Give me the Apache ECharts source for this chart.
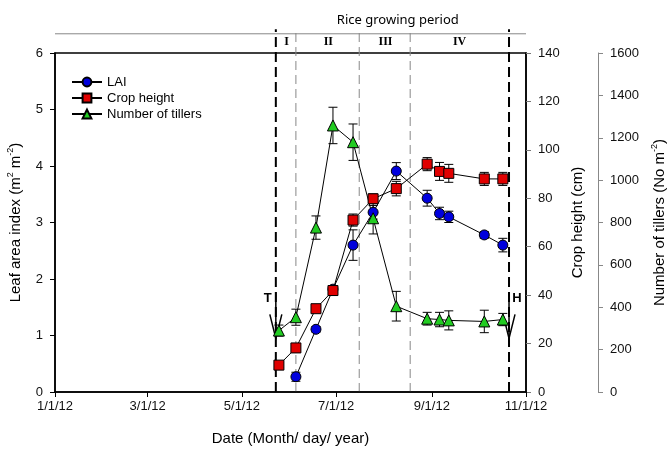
<!DOCTYPE html>
<html><head><meta charset="utf-8">
<script src="https://cdn.jsdelivr.net/npm/echarts@6/dist/echarts.min.js"></script>
<style>html,body{margin:0;padding:0;background:#fff}#c{width:668px;height:458px}</style>
</head><body><div id="c"></div>
<script>
// ---------- data ----------
const xMin = '2012-01-01', xMax = '2012-11-01';
const xTickDates = ['2012-01-01','2012-03-01','2012-05-01','2012-07-01','2012-09-01','2012-11-01'];

const laiDates = ['2012-06-05','2012-06-18','2012-06-29','2012-07-12','2012-07-25','2012-08-09','2012-08-29','2012-09-06','2012-09-12','2012-10-05','2012-10-17'];
const laiValues = [0.27,1.11,1.82,2.60,3.18,3.91,3.43,3.16,3.10,2.78,2.60];
const laiErr = [0.08,0.05,0.05,0.27,0.12,0.15,0.14,0.11,0.10,0.06,0.12];

const cropDates = ['2012-05-25','2012-06-05','2012-06-18','2012-06-29','2012-07-12','2012-07-25','2012-08-09','2012-08-29','2012-09-06','2012-09-12','2012-10-05','2012-10-17'];
const cropValues = [11.1,18.2,34.4,41.9,71.0,79.8,84.0,94.1,91.1,90.3,88.0,88.0];
const cropErr = [1.0,1.8,1.4,2.0,2.5,2.0,3.0,2.7,3.7,3.7,2.7,2.7];

const tillerDates = cropDates;
const tillerValues = [290,353,776,1258,1179,820,405,346,342,338,333,342];
const tillerErr = [26,38,55,86,86,74,70,30,34,45,53,29];

const periodBounds = ['2012-05-23','2012-06-05','2012-07-16','2012-08-18','2012-10-21'];
const boundHeavy = [1,0,0,0,1];
const periodNames = ['I','II','III','IV'];
const periodCenters = ['2012-05-30','2012-06-26','2012-08-02','2012-09-19'];
const bandTitle = 'Rice growing period';
const bandTitleDate = '2012-08-10';

const arrowDates = ['2012-05-23','2012-10-21'];
const arrowLabels = ['T','H'];
const arrowTop = 1.77, arrowTip = 0.95;

// ---------- helpers ----------
function ts(s){const p=s.split('-').map(Number);return new Date(p[0],p[1]-1,p[2]).getTime();}
const FONT = 'Liberation Sans, Arial, sans-serif';
const plain = v => String(v);

function errRender(params, api){
  const x=api.value(0), y=api.value(1), e=api.value(2);
  const hi=api.coord([x,y+e]), lo=api.coord([x,y-e]);
  const w=4.5, st={stroke:'#000', lineWidth:1};
  return {type:'group', children:[
    {type:'line', shape:{x1:hi[0],y1:hi[1],x2:lo[0],y2:lo[1]}, style:st},
    {type:'line', shape:{x1:hi[0]-w,y1:hi[1],x2:hi[0]+w,y2:hi[1]}, style:st},
    {type:'line', shape:{x1:lo[0]-w,y1:lo[1],x2:lo[0]+w,y2:lo[1]}, style:st}
  ]};
}
function errSeries(name, dates, vals, errs, yIdx){
  return {name:name, type:'custom', xAxisIndex:0, yAxisIndex:yIdx, z:1, silent:true,
    renderItem:errRender, encode:{x:0,y:1},
    data:dates.map((d,i)=>[ts(d), vals[i], errs[i]])};
}
const supRich = {a:{fontSize:15, lineHeight:20, fontFamily:FONT, color:'#000'}, s:{fontSize:9, lineHeight:9, verticalAlign:'top', fontFamily:FONT, color:'#000'}};

const option = {
  animation:false,
  backgroundColor:'#fff',
  grid:{left:55, right:142, top:53, bottom:66, show:true, borderColor:'#000', borderWidth:1.5, outerBoundsMode:'none', containLabel:false},
  legend:{
    orient:'vertical', left:66, top:70, itemWidth:30, itemHeight:11, itemGap:2,
    data:['LAI','Crop height','Number of tillers'],
    textStyle:{fontSize:13, fontFamily:FONT, color:'#000', lineHeight:14}
  },
  xAxis:[{
    type:'value', min:ts(xMin), max:ts(xMax),
    axisLine:{lineStyle:{color:'#000', width:1.5}},
    axisTick:{show:true, length:5, lineStyle:{color:'#000'}, customValues:xTickDates.map(ts)},
    axisLabel:{fontSize:13, fontFamily:FONT, color:'#111', margin:8, customValues:xTickDates.map(ts),
      formatter:function(v){const d=new Date(v);return (d.getMonth()+1)+'/'+d.getDate()+'/'+String(d.getFullYear()).slice(2);}},
    splitLine:{show:false},
    name:'Date (Month/ day/ year)', nameLocation:'middle', nameGap:39,
    nameTextStyle:{fontSize:15, fontFamily:FONT, color:'#000'}
  }],
  yAxis:[
    {type:'value', position:'left', min:0, max:6, interval:1,
     axisLine:{show:true, lineStyle:{color:'#000', width:1.5}},
     axisTick:{show:true, length:5, lineStyle:{color:'#000'}},
     axisLabel:{fontSize:13, fontFamily:FONT, color:'#111', margin:12, formatter:plain},
     splitLine:{show:false},
     name:'{a|Leaf area index (m}{s|2}{a| m}{s|-2}{a|)}', nameLocation:'middle', nameGap:29,
     nameTextStyle:{rich:supRich}},
    {type:'value', position:'right', offset:0, min:0, max:140, interval:20,
     axisLine:{show:true, lineStyle:{color:'#000', width:1.5}},
     axisTick:{show:true, length:5, lineStyle:{color:'#777'}},
     axisLabel:{fontSize:13, fontFamily:FONT, color:'#111', margin:12, formatter:plain},
     splitLine:{show:false},
     name:'Crop height (cm)', nameLocation:'middle', nameGap:43, nameRotate:90,
     nameTextStyle:{fontSize:15, fontFamily:FONT, color:'#000'}},
    {type:'value', position:'right', offset:72, min:0, max:1600, interval:200,
     axisLine:{show:true, lineStyle:{color:'#888', width:1}},
     axisTick:{show:true, length:5, lineStyle:{color:'#888'}},
     axisLabel:{fontSize:13, fontFamily:FONT, color:'#111', margin:12, formatter:plain},
     splitLine:{show:false},
     name:'{a|Number of tillers (No m}{s|-2}{a|)}', nameLocation:'middle', nameGap:45, nameRotate:90,
     nameTextStyle:{rich:supRich}}
  ],
  series:[
    {name:'bounds', type:'custom', xAxisIndex:0, yAxisIndex:0, clip:false, silent:true, z:0,
     encode:{x:0,y:1},
     data:periodBounds.map((d,i)=>[ts(d), boundHeavy[i]]),
     renderItem:function(params, api){
       const x=api.value(0), heavy=api.value(1)===1;
       const a=api.coord([x,0]), b=api.coord([x, heavy?6.42:6.38]);
       return {type:'line', shape:{x1:a[0],y1:a[1],x2:b[0],y2:b[1]},
         style:{stroke: heavy?'#000':'#888', lineWidth: heavy?2:1, lineDash: heavy?[10,5]:[9,5]}};
     }},
    {name:'bandline', type:'custom', xAxisIndex:0, yAxisIndex:0, clip:false, silent:true,
     encode:{x:0,y:1},
     data:[[ts(xMin), 6.34, ts(xMax)]],
     renderItem:function(params, api){
       const a=api.coord([api.value(0), api.value(1)]), b=api.coord([api.value(2), api.value(1)]);
       return {type:'line', shape:{x1:a[0],y1:a[1],x2:b[0],y2:b[1]}, style:{stroke:'#888', lineWidth:1}};
     }},
    {name:'periods', type:'custom', xAxisIndex:0, yAxisIndex:0, clip:false, silent:true,
     encode:{x:0,y:1},
     data:periodCenters.map(d=>[ts(d), 6.19]),
     renderItem:function(params, api){
       const p=api.coord([api.value(0), api.value(1)]);
       return {type:'text', x:p[0], y:p[1], style:{text:periodNames[params.dataIndex], fontSize:12, fontWeight:'bold',
         fontFamily:'Liberation Serif, serif', align:'center', verticalAlign:'middle', fill:'#000'}};
     }},
    {name:'bandtitle', type:'custom', xAxisIndex:0, yAxisIndex:0, clip:false, silent:true,
     encode:{x:0,y:1},
     data:[[ts(bandTitleDate), 6.57]],
     renderItem:function(params, api){
       const p=api.coord([api.value(0), api.value(1)]);
       return {type:'text', x:p[0], y:p[1], style:{text:bandTitle, fontSize:13, fontFamily:'Noto Sans, '+FONT,
         align:'center', verticalAlign:'middle', fill:'#000'}};
     }},
    {name:'arrows', type:'custom', xAxisIndex:0, yAxisIndex:0, clip:false, silent:true, z:3,
     encode:{x:0,y:1},
     data:arrowDates.map(d=>[ts(d), arrowTop, arrowTip]),
     renderItem:function(params, api){
       const x=api.value(0);
       const a=api.coord([x, api.value(1)]), b=api.coord([x, api.value(2)]);
       const side = params.dataIndex===0?-1:1;
       return {type:'group', children:[
         {type:'line', shape:{x1:a[0],y1:a[1],x2:b[0],y2:b[1]}, style:{stroke:'#000', lineWidth:1.5}},
         {type:'polyline', shape:{points:[[b[0]-6,b[1]-24],[b[0],b[1]],[b[0]+6,b[1]-24]]}, style:{stroke:'#000', lineWidth:1.5, fill:null}},
         {type:'text', x:a[0]+side*8, y:a[1]+6, style:{text:arrowLabels[params.dataIndex], fontSize:13, fontWeight:'bold',
           fontFamily:FONT, align:'center', verticalAlign:'middle', fill:'#000'}}
       ]};
     }},
    errSeries('laiErr', laiDates, laiValues, laiErr, 0),
    errSeries('cropErr', cropDates, cropValues, cropErr, 1),
    errSeries('tillerErr', tillerDates, tillerValues, tillerErr, 2),
    {name:'LAI', type:'line', xAxisIndex:0, yAxisIndex:0, z:3,
     data:laiDates.map((d,i)=>[ts(d), laiValues[i]]),
     symbol:'circle', symbolSize:10,
     itemStyle:{color:'#0000dd', borderColor:'#000', borderWidth:1},
     lineStyle:{color:'#000', width:1}},
    {name:'Crop height', type:'line', xAxisIndex:0, yAxisIndex:1, z:3,
     data:cropDates.map((d,i)=>[ts(d), cropValues[i]]),
     symbol:'rect', symbolSize:10,
     itemStyle:{color:'#e00000', borderColor:'#000', borderWidth:1},
     lineStyle:{color:'#000', width:1}},
    {name:'Number of tillers', type:'line', xAxisIndex:0, yAxisIndex:2, z:3,
     data:tillerDates.map((d,i)=>[ts(d), tillerValues[i]]),
     symbol:'triangle', symbolSize:11,
     itemStyle:{color:'#22cc22', borderColor:'#000', borderWidth:1},
     lineStyle:{color:'#000', width:1}}
  ]
};
const chart = echarts.init(document.getElementById('c'), null, {renderer:'canvas'});
chart.setOption(option);
</script></body></html>
